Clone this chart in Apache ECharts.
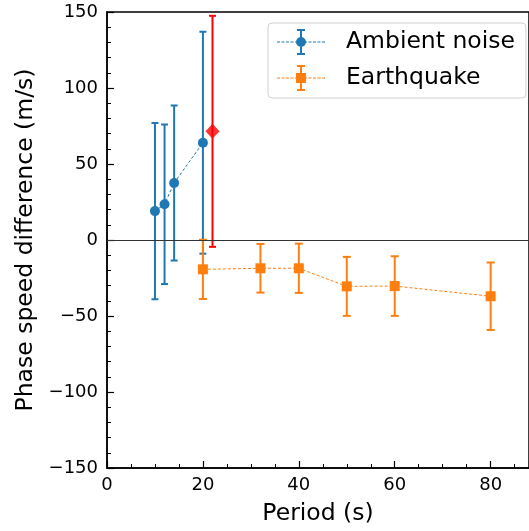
<!DOCTYPE html>
<html lang="en">
<head>
    <meta charset="UTF-8" />
    <title>Phase speed difference</title>
    <script src="https://cdn.jsdelivr.net/npm/echarts@6/dist/echarts.min.js"></script>
    <style>
        html, body { margin: 0; padding: 0; background: #fff; }
    </style>
</head>
<body>
    <div id="chart" style="width: 529px; height: 531px"></div>
    <script>
        // ambient noise points (period, value, +/- error)
        var ambientPeriod = [10, 12, 14, 20];
        var ambientDiff = [19, 23.5, 37.5, 64];
        var ambientErr = [58, 52.5, 51, 73];

        // the red diamond
        var redPeriod = [22];
        var redDiff = [71.5];
        var redErr = [76];

        // earthquake points
        var quakePeriod = [20, 32, 40, 50, 60, 80];
        var quakeDiff = [-19.3, -18.6, -18.6, -30.5, -30.3, -37];
        var quakeErr = [19.5, 16, 16.2, 19.4, 19.6, 22.2];

        var blue = "#1f77b4";
        var orange = "#ff7f0e";
        var red = "#ff0000";
        var font = "DejaVu Sans";

        function points(xs, ys) {
            var out = [];
            for (var i = 0; i < xs.length; i++) out.push([xs[i], ys[i]]);
            return out;
        }
        function bars(xs, ys, es) {
            var out = [];
            for (var i = 0; i < xs.length; i++) out.push([xs[i], ys[i] - es[i], ys[i] + es[i]]);
            return out;
        }

        // error bar with caps
        function errorBar(color, cap) {
            return function (params, api) {
                var x = api.value(0);
                var top = api.coord([x, api.value(2)]);
                var bot = api.coord([x, api.value(1)]);
                var st = { stroke: color, lineWidth: 2 };
                var h = cap / 2;
                return {
                    type: "group",
                    children: [
                        { type: "line", shape: { x1: top[0], y1: top[1], x2: bot[0], y2: bot[1] }, style: st },
                        { type: "line", shape: { x1: top[0] - h, y1: top[1], x2: top[0] + h, y2: top[1] }, style: st },
                        { type: "line", shape: { x1: bot[0] - h, y1: bot[1], x2: bot[0] + h, y2: bot[1] }, style: st },
                    ],
                };
            };
        }

        // legend icon: dashed line, error bar and marker (48 x 26 box)
        var dashes = "";
        [0, 4.5, 9, 13.5, 18, 27, 31.5, 36, 40.5, 45].forEach(function (d) {
            dashes += "M" + d + " 12.5H" + (d + 3) + "V13.5H" + d + "Z";
        });
        var barPath = "M23 1H25V25H23Z M20 0H28V2H20Z M20 24H28V26H20Z";
        var circleIcon = "path://" + dashes + barPath + "M19 13A5 5 0 1 1 29 13A5 5 0 1 1 19 13Z";
        var squareIcon = "path://" + dashes + barPath + "M19 8H29V18H19Z";

        var chart = echarts.init(document.getElementById("chart"));

        var option = {
            animation: false,
            textStyle: { fontFamily: font },
            grid: {
                left: 107,
                top: 12,
                right: 0,
                bottom: 63,
                show: true,
                borderColor: "#000",
                borderWidth: 1.5,
            },
            legend: {
                orient: "vertical",
                left: 268,
                top: 23,
                padding: [6, 11, 7, 9],
                borderColor: "#d0d0d0",
                borderWidth: 1,
                borderRadius: 4,
                itemWidth: 48,
                itemHeight: 26,
                itemGap: 10,
                textStyle: { fontSize: 23.5, color: "#000", fontFamily: font, padding: [0, 0, 0, 16] },
                data: [
                    { name: "Ambient noise", icon: circleIcon, itemStyle: { color: blue, borderWidth: 0 } },
                    { name: "Earthquake", icon: squareIcon, itemStyle: { color: orange, borderWidth: 0 } },
                ],
            },
            xAxis: {
                type: "value",
                min: 0,
                max: 88,
                interval: 20,
                name: "Period (s)",
                nameLocation: "middle",
                nameGap: 34,
                nameTextStyle: { fontSize: 23.5, color: "#000", fontFamily: font },
                axisLine: { onZero: false, lineStyle: { color: "#000", width: 1.5 } },
                axisTick: { inside: true, length: 7, lineStyle: { color: "#000", width: 1.2 } },
                minorTick: { show: true, splitNumber: 4, length: 4, lineStyle: { color: "#000", width: 1 } },
                axisLabel: { fontSize: 18, color: "#000", fontFamily: font, margin: 8, showMaxLabel: false },
                splitLine: { show: false },
            },
            yAxis: {
                type: "value",
                min: -150,
                max: 150,
                interval: 50,
                name: "Phase speed difference (m/s)",
                nameLocation: "middle",
                nameGap: 68,
                nameTextStyle: { fontSize: 23.5, color: "#000", fontFamily: font },
                axisLine: { onZero: false, lineStyle: { color: "#000", width: 1.5 } },
                axisTick: { inside: true, length: 7, lineStyle: { color: "#000", width: 1.2 } },
                minorTick: { show: true, splitNumber: 5, length: 4, lineStyle: { color: "#000", width: 1 } },
                axisLabel: {
                    fontSize: 18,
                    color: "#000",
                    fontFamily: font,
                    margin: 9,
                    formatter: function (v) { return String(v).replace("-", "\u2212"); },
                },
                splitLine: { show: false },
            },
            series: [
                {
                    name: "Ambient noise",
                    type: "custom",
                    renderItem: errorBar(blue, 7),
                    itemStyle: { color: blue },
                    encode: { x: 0, y: [1, 2] },
                    data: bars(ambientPeriod, ambientDiff, ambientErr),
                    z: 2,
                },
                {
                    name: "Ambient noise",
                    type: "line",
                    data: points(ambientPeriod, ambientDiff),
                    symbol: "circle",
                    symbolSize: 10,
                    itemStyle: { color: blue },
                    lineStyle: { color: blue, width: 1, type: [3, 2] },
                    z: 3,
                    markLine: {
                        silent: true,
                        symbol: "none",
                        label: { show: false },
                        lineStyle: { color: "#333", width: 1, type: "solid" },
                        data: [{ yAxis: 0 }],
                    },
                },
                {
                    name: "Earthquake",
                    type: "custom",
                    renderItem: errorBar(orange, 8),
                    itemStyle: { color: orange },
                    encode: { x: 0, y: [1, 2] },
                    data: bars(quakePeriod, quakeDiff, quakeErr),
                    z: 2,
                },
                {
                    name: "Earthquake",
                    type: "line",
                    data: points(quakePeriod, quakeDiff),
                    symbol: "rect",
                    symbolSize: 10,
                    itemStyle: { color: orange },
                    lineStyle: { color: orange, width: 1, type: [3, 2] },
                    z: 3,
                },
                {
                    name: "red",
                    type: "custom",
                    renderItem: errorBar(red, 7),
                    itemStyle: { color: red },
                    encode: { x: 0, y: [1, 2] },
                    data: bars(redPeriod, redDiff, redErr),
                    z: 2,
                },
                {
                    name: "red",
                    type: "scatter",
                    data: points(redPeriod, redDiff),
                    symbol: "diamond",
                    symbolSize: [14, 15],
                    itemStyle: { color: red },
                    z: 3,
                },
            ],
        };
        chart.setOption(option);
    </script>
</body>
</html>
